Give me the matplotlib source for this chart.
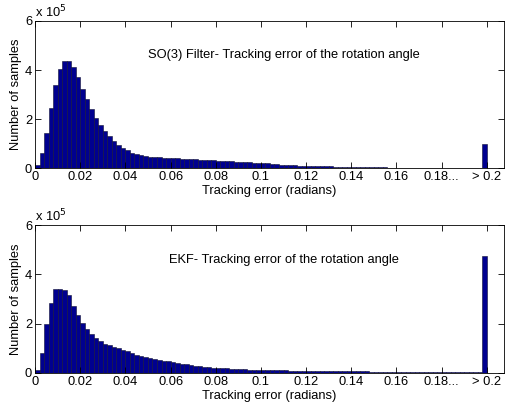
import numpy as np
import matplotlib
matplotlib.use("Agg")
import matplotlib.pyplot as plt

# --- histogram counts (units of 1e5), bins of width 0.002 starting at 0 ---
bin_width = 0.002

so3_counts = [
    0.12, 0.60, 1.44, 2.46, 3.39, 4.03, 4.37, 4.37, 4.14, 3.70,
    3.21, 2.80, 2.39, 2.05, 1.76, 1.52, 1.31, 1.12, 0.94, 0.80,
    0.73, 0.63, 0.56, 0.52, 0.49, 0.47, 0.45, 0.44, 0.43, 0.42,
    0.41, 0.40, 0.39, 0.38, 0.37, 0.36, 0.35, 0.34, 0.33, 0.32,
    0.30, 0.29, 0.28, 0.27, 0.26, 0.25, 0.24, 0.23, 0.22, 0.21,
    0.20, 0.19, 0.17, 0.15, 0.13, 0.12, 0.11, 0.11, 0.10, 0.10,
    0.08, 0.08, 0.07, 0.07, 0.07, 0.07, 0.06, 0.06, 0.05, 0.05,
    0.04, 0.04, 0.04, 0.04, 0.04, 0.04, 0.03, 0.03, 0.02, 0.02,
    0.01, 0.01, 0.01, 0.01, 0.01, 0.005, 0.005, 0.005, 0.005, 0.005,
    0.005, 0.005, 0.005, 0.005, 0.005, 0.005, 0.005, 0.005, 0.005,
]
so3_overflow = 0.98

ekf_counts = [
    0.14, 0.81, 1.98, 2.84, 3.42, 3.42, 3.36, 3.18, 2.73, 2.34,
    2.03, 1.80, 1.60, 1.43, 1.30, 1.19, 1.12, 1.06, 1.00, 0.95,
    0.88, 0.81, 0.74, 0.68, 0.63, 0.59, 0.56, 0.53, 0.50, 0.47,
    0.44, 0.41, 0.38, 0.35, 0.32, 0.29, 0.27, 0.25, 0.23, 0.22,
    0.21, 0.20, 0.19, 0.18, 0.17, 0.16, 0.15, 0.14, 0.13, 0.13,
    0.12, 0.12, 0.12, 0.11, 0.11, 0.11, 0.10, 0.10, 0.10, 0.10,
    0.09, 0.09, 0.09, 0.09, 0.08, 0.08, 0.08, 0.08, 0.08, 0.07,
    0.07, 0.07, 0.07, 0.07, 0.06, 0.06, 0.06, 0.06, 0.06, 0.05,
    0.05, 0.05, 0.05, 0.05, 0.05, 0.04, 0.04, 0.04, 0.04, 0.04,
    0.04, 0.04, 0.03, 0.03, 0.03, 0.03, 0.03, 0.03, 0.03,
]
ekf_overflow = 4.75

xtick_vals = [0, 0.02, 0.04, 0.06, 0.08, 0.1, 0.12, 0.14, 0.16, 0.18, 0.2]
xtick_labels = ['0', '0.02', '0.04', '0.06', '0.08', '0.1', '0.12', '0.14',
                '0.16', '0.18...', '> 0.2']
ytick_vals = [0, 2, 4, 6]

titles = ['SO(3) Filter- Tracking error of the rotation angle',
          'EKF- Tracking error of the rotation angle']

plt.rcParams['font.family'] = ['Liberation Sans', 'DejaVu Sans']
plt.rcParams['font.size'] = 9.3

BAR_FACE = '#00008f'
BAR_EDGE = '#111133'


def draw_hist(ax, counts, overflow, title):
    counts = np.asarray(counts) * 1e5
    edges = np.arange(len(counts)) * bin_width
    ax.bar(edges, counts, width=bin_width, align='edge',
           color=BAR_FACE, edgecolor=BAR_EDGE, linewidth=0.4)
    # last bar collects everything above 0.2
    ax.bar(len(counts) * bin_width, overflow * 1e5, width=bin_width,
           align='edge', color=BAR_FACE, edgecolor=BAR_EDGE, linewidth=0.4)

    ax.set_xlim(0, 0.2075)
    ax.set_ylim(0, 6e5)
    ax.set_xticks(xtick_vals)
    ax.set_xticklabels(xtick_labels)
    ax.set_yticks([v * 1e5 for v in ytick_vals])
    ax.set_yticklabels([str(v) for v in ytick_vals])
    ax.tick_params(direction='in', top=True, right=True, length=4,
                   width=0.6, pad=2, labelsize=9.3)
    for sp in ax.spines.values():
        sp.set_linewidth(0.6)

    ax.set_xlabel('Tracking error (radians)', labelpad=1.5)
    ax.set_ylabel('Number of samples', labelpad=2)
    ax.text(0.0, 1.005, r'x 10$^5$', transform=ax.transAxes,
            ha='left', va='bottom', fontsize=9.3)
    ax.text(0.11, 4.6e5, title, ha='center', va='center', fontsize=9.3)


fig = plt.figure(figsize=(5.09, 4.11), dpi=100)
ax_top = fig.add_axes([0.0688, 0.591, 0.921, 0.358])
ax_bot = fig.add_axes([0.0688, 0.0925, 0.921, 0.360])

draw_hist(ax_top, so3_counts, so3_overflow, titles[0])
draw_hist(ax_bot, ekf_counts, ekf_overflow, titles[1])

fig.savefig('out.png', dpi=100)
